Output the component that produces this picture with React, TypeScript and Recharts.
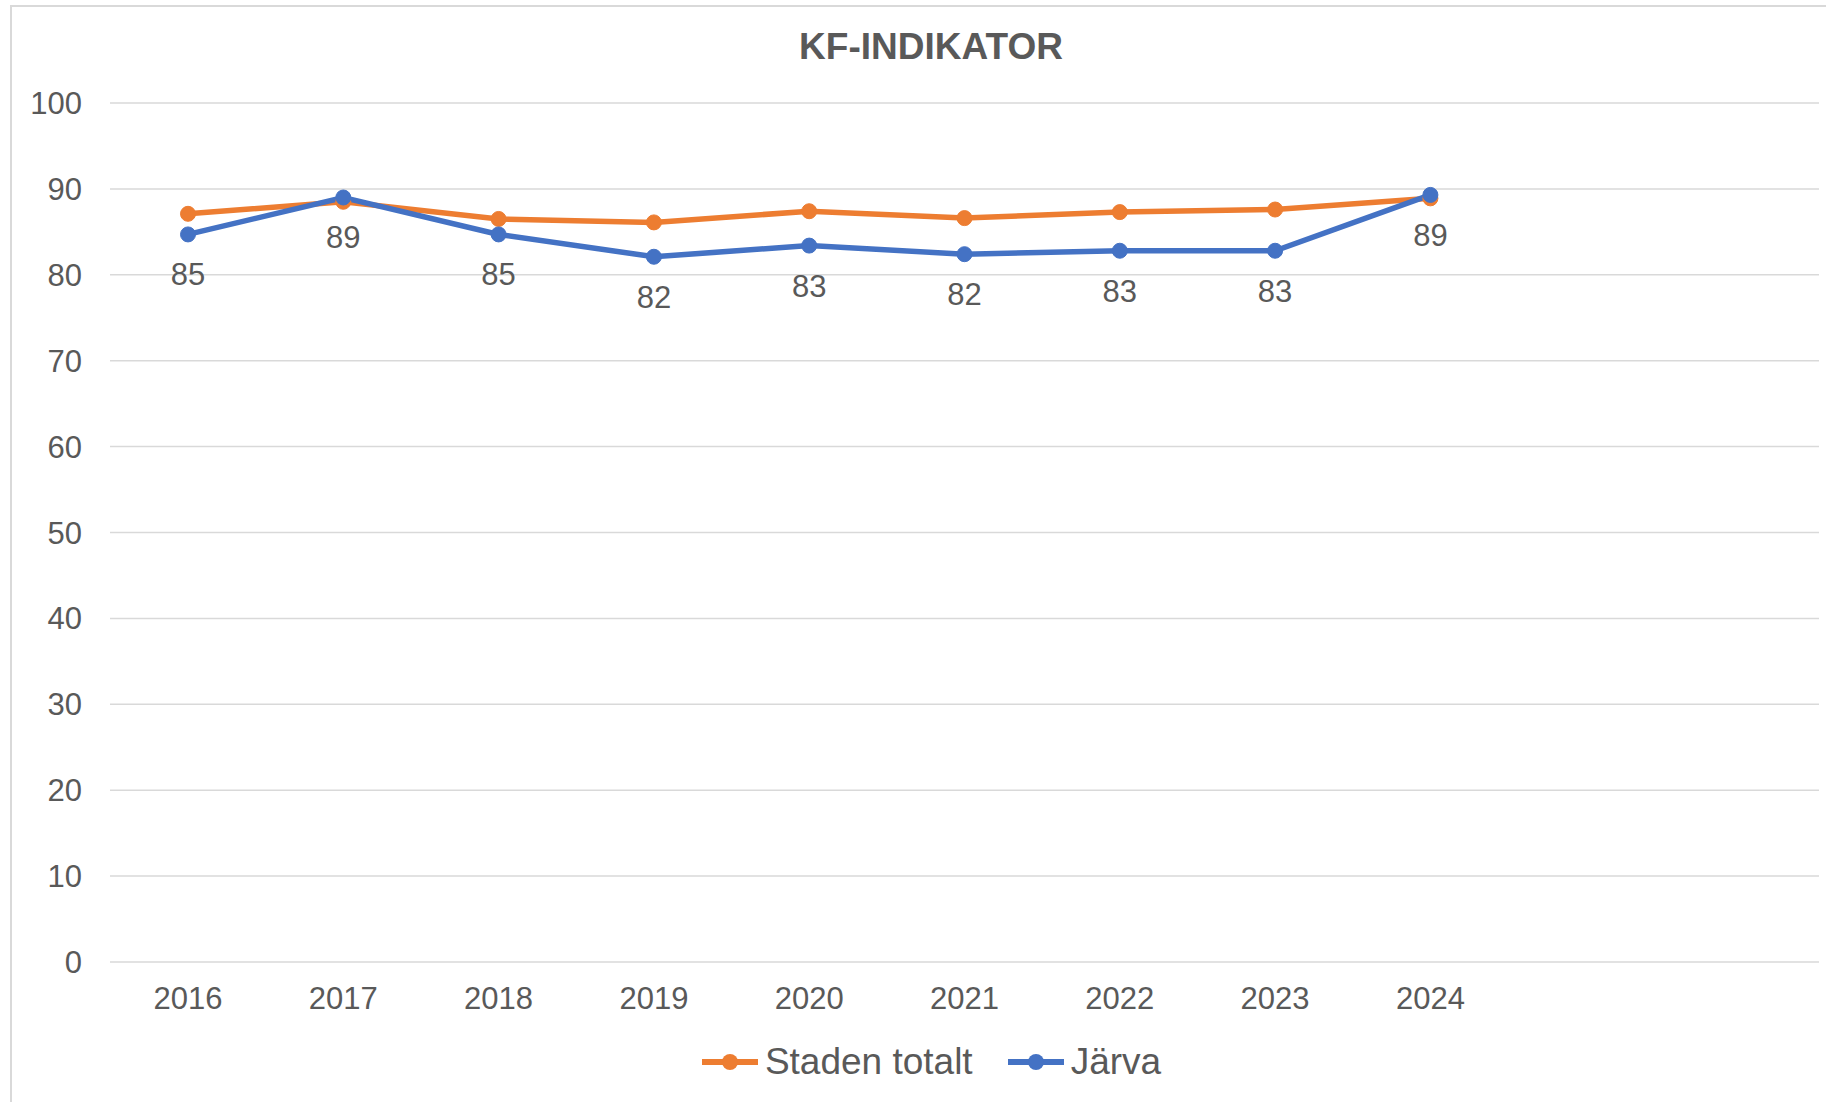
import React from "react";
import {
  LineChart,
  Line,
  XAxis,
  YAxis,
  CartesianGrid,
  Legend,
  LabelList,
} from "recharts";

// years on the axis; the two last slots are empty in the original sheet
const categories = ["2016", "2017", "2018", "2019", "2020", "2021", "2022", "2023", "2024", "", ""];
const stadenValues = [87.1, 88.5, 86.5, 86.1, 87.4, 86.6, 87.3, 87.6, 88.9];
const jarvaValues = [84.7, 89.0, 84.7, 82.1, 83.4, 82.4, 82.8, 82.8, 89.3];
const yTicks = [0, 10, 20, 30, 40, 50, 60, 70, 80, 90, 100];

const seriesNames = { staden: "Staden totalt", jarva: "Järva" };
const ORANGE = "#ED7D31";
const BLUE = "#4472C4";
const TEXT = "#595959";
const FONT = "'Liberation Sans', Arial, sans-serif";

const data = categories.map((year, i) => ({
  year,
  staden: stadenValues[i] ?? null,
  jarva: jarvaValues[i] ?? null,
}));

function renderLabel(props: any) {
  const x = props.x ?? props.viewBox?.x;
  const y = props.y ?? props.viewBox?.y;
  if (props.value == null || x == null || y == null) return null;
  return (
    <text
      x={x}
      y={y + 51}
      textAnchor="middle"
      fill={TEXT}
      fontSize={31}
      fontFamily={FONT}
    >
      {Math.round(props.value)}
    </text>
  );
}

function LegendItem({ color, label }: { color: string; label: string }) {
  return (
    <div style={{ display: "flex", alignItems: "center" }}>
      <svg width={58} height={20} style={{ marginRight: 6 }}>
        <line x1={1} y1={10} x2={57} y2={10} stroke={color} strokeWidth={6} />
        <circle cx={29} cy={10} r={8} fill={color} />
      </svg>
      <span>{label}</span>
    </div>
  );
}

function renderLegend() {
  return (
    <div
      style={{
        display: "flex",
        justifyContent: "center",
        gap: 34,
        fontFamily: FONT,
        fontSize: 37,
        color: TEXT,
        lineHeight: "44px",
        paddingLeft: 36,
      }}
    >
      <LegendItem color={ORANGE} label={seriesNames.staden} />
      <LegendItem color={BLUE} label={seriesNames.jarva} />
    </div>
  );
}

export default function App() {
  return (
    <div
      style={{
        position: "absolute",
        left: 0,
        top: 0,
        width: 1826,
        height: 1102,
        overflow: "hidden",
        background: "#fff",
      }}
    >
      <div
        style={{
          position: "absolute",
          left: 10,
          top: 5,
          width: 1840,
          height: 1120,
          border: "2px solid #D9D9D9",
        }}
      />
      <div
        style={{
          position: "absolute",
          left: 731,
          top: 28,
          width: 400,
          textAlign: "center",
          fontFamily: FONT,
          fontWeight: "bold",
          fontSize: 37,
          lineHeight: "37px",
          color: TEXT,
        }}
      >
        KF-INDIKATOR
      </div>
      <div style={{ position: "absolute", left: 0, top: 0 }}>
        <LineChart
          width={1826}
          height={1102}
          data={data}
          margin={{ top: 103, right: 7, left: 0, bottom: 0 }}
        >
          <CartesianGrid vertical={false} stroke="#D9D9D9" strokeWidth={1.5} />
          <XAxis
            dataKey="year"
            padding={{ left: 78, right: 78 }}
            height={140}
            axisLine={false}
            tickLine={false}
            tickSize={0}
            tickMargin={25}
            interval={0}
            tick={{ fill: TEXT, fontSize: 31, fontFamily: FONT }}
          />
          <YAxis
            width={110}
            domain={[0, 100]}
            ticks={yTicks}
            interval={0}
            axisLine={false}
            tickLine={false}
            tickSize={0}
            tickMargin={28}
            tick={{ fill: TEXT, fontSize: 31, fontFamily: FONT }}
          />
          <Legend
            layout="vertical"
            align="center"
            verticalAlign="middle"
            content={renderLegend}
            wrapperStyle={{ top: 1040, left: 0, width: 1826 }}
          />
          <Line
            dataKey="staden"
            name={seriesNames.staden}
            stroke={ORANGE}
            strokeWidth={5.5}
            dot={{ r: 7.5, fill: ORANGE, stroke: ORANGE, strokeWidth: 1 }}
            activeDot={false}
            isAnimationActive={false}
          />
          <Line
            dataKey="jarva"
            name={seriesNames.jarva}
            stroke={BLUE}
            strokeWidth={5.5}
            dot={{ r: 7.5, fill: BLUE, stroke: BLUE, strokeWidth: 1 }}
            activeDot={false}
            isAnimationActive={false}
          >
            <LabelList dataKey="jarva" content={renderLabel} />
          </Line>
        </LineChart>
      </div>
    </div>
  );
}
